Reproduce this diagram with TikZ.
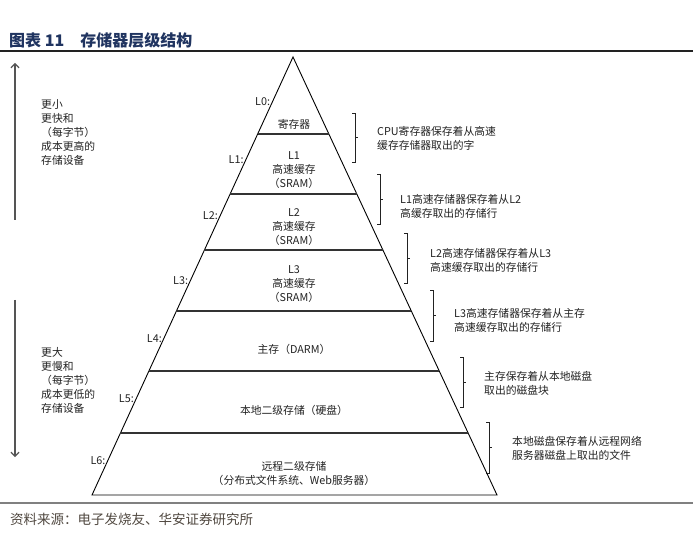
\documentclass[tikz,border=0pt]{standalone}
\usepackage{fontspec}
\setmainfont{Noto Sans CJK SC}
\usetikzlibrary{calc,arrows.meta}
\definecolor{tBlue}{RGB}{32,52,96}
\definecolor{tGray}{RGB}{85,85,85}
\definecolor{tInk}{RGB}{34,34,34}
\definecolor{tSrc}{RGB}{80,72,64}
\tikzset{
  txt/.style={font=\fontsize{10.8}{14}\selectfont, text=tInk, align=center, inner sep=0pt},
  desc/.style={txt, align=left, anchor=west},
  lvl/.style={txt, anchor=east},
  side/.style={txt, align=left, anchor=west},
  pyr/.style={draw=black, line width=0.9pt},
  layer/.style={draw=black!80, line width=1.1pt},
  brk/.style={draw=tInk, line width=0.8pt},
  updown/.style={draw=tGray, line width=1.2pt, -{Straight Barb[length=4pt,width=8pt]}},
}

\begin{document}
\begin{tikzpicture}[x=1pt,y=-1pt]
  \useasboundingbox (0,0) rectangle (693,534);
  % heading, rules and source
  \node[anchor=west, inner sep=0pt, text=tBlue,
        font=\fontsize{16}{18}\bfseries\selectfont] (title) at (9,40) {图表 11\hspace{16pt}存储器层级结构};
  \coordinate (topL) at (0,51);
  \coordinate (topR) at (693,51);
  \draw[line width=1.3pt, tInk] (topL) -- (topR);
  \coordinate (botL) at (0,503);
  \coordinate (botR) at (693,503);
  \draw[line width=2pt, black!50] (botL) -- (botR);
  \node[anchor=west, inner sep=0pt, text=tSrc,
        font=\fontsize{13.5}{15}\selectfont] (src) at (10,519) {资料来源：电子发烧友、华安证券研究所};

  % pyramid
  \coordinate (apex) at (293,57);
  \coordinate (bl) at (92,495);
  \coordinate (br) at (497,495);
  \draw[pyr] (bl) -- (apex) -- (br) -- cycle;
  \foreach \t [count=\i] in {0.1758,0.3128,0.4406,0.5799,0.7169,0.8584}{
    \coordinate (l\i) at ($(apex)!\t!(bl)$);
    \coordinate (r\i) at ($(apex)!\t!(br)$);
    \draw[layer] (l\i) -- (r\i);
  }
  \foreach \t/\n in {0.103/0,0.235/1,0.363/2,0.511/3,0.642/4,0.781/5,0.922/6}
    \node[lvl] (lab\n) at ($(apex)!\t!(bl)+(-2,0)$) {L\n:};

  % layer contents
  \node[txt] (reg)    at (294,124) {寄存器};
  \node[txt] (sram1)  at (294,170) {L1\\高速缓存\\（SRAM）};
  \node[txt] (sram2)  at (294,227) {L2\\高速缓存\\（SRAM）};
  \node[txt] (sram3)  at (294,284) {L3\\高速缓存\\（SRAM）};
  \node[txt] (dram)   at (294,349) {主存（DARM）};
  \node[txt] (disk)   at (294,410) {本地二级存储（硬盘）};
  \node[txt] (remote) at (294,473) {远程二级存储\\（分布式文件系统、Web服务器）};

  % brackets on the right
  \foreach \bx/\ya/\yb/\i in {355/113/162/1,380/174/224/2,407/233/283/3,
                               433/290/341/4,463/357/407/5,489/422/473/6}{
    \coordinate (bt\i) at (\bx,\ya);
    \coordinate (bb\i) at (\bx,\yb);
    \draw[brk] ($(bt\i)+(-3,0)$) -- (bt\i) -- (bb\i) -- ++(-3,0);
    \draw[brk] ($(bt\i)!0.5!(bb\i)$) -- ++(3,0);
  }
  \node[desc] (d1) at (377,138) {CPU寄存器保存着从高速\\缓存存储器取出的字};
  \node[desc] (d2) at (400,206) {L1高速存储器保存着从L2\\高缓存取出的存储行};
  \node[desc] (d3) at (430,260) {L2高速存储器保存着从L3\\高速缓存取出的存储行};
  \node[desc] (d4) at (454,320) {L3高速存储器保存着从主存\\高速缓存取出的存储行};
  \node[desc] (d5) at (484,383) {主存保存着从本地磁盘\\取出的磁盘块};
  \node[desc] (d6) at (512,448) {本地磁盘保存着从远程网络\\服务器磁盘上取出的文件};

  % left side arrows
  \coordinate (upS) at (15,220);
  \coordinate (upE) at (15,63);
  \draw[updown] (upS) -- (upE);
  \coordinate (dnS) at (15,300);
  \coordinate (dnE) at (15,457);
  \draw[updown] (dnS) -- (dnE);
  \node[side] (fast) at (41,132) {更小\\更快和\\（每字节）\\成本更高的\\存储设备};
  \node[side] (slow) at (41,380) {更大\\更慢和\\（每字节）\\成本更低的\\存储设备};
\end{tikzpicture}
\end{document}
